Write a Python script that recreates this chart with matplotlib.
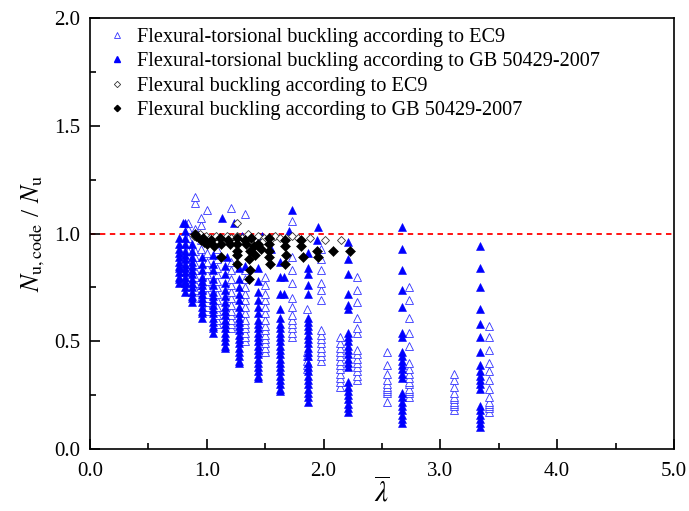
import matplotlib
matplotlib.use("Agg")
import matplotlib.pyplot as plt
from matplotlib.ticker import MultipleLocator, FormatStrFormatter
from matplotlib.lines import Line2D

plt.rcParams['font.family'] = ['Liberation Serif', 'DejaVu Serif']
plt.rcParams['mathtext.fontset'] = 'stix'

# Flexural-torsional buckling, GB 50429-2007 (filled triangles): columns of lambda with ratios
ft_gb_lam = [0.76, 0.81, 0.87, 0.96, 1.05, 1.16, 1.28, 1.44, 1.63, 1.87, 2.21, 2.67, 3.34]
ft_gb_val = [
    [0.77, 0.79, 0.80, 0.82, 0.84, 0.85, 0.87, 0.89, 0.91, 0.93, 0.95, 0.98],
    [0.73, 0.75, 0.77, 0.78, 0.80, 0.82, 0.84, 0.86, 0.88, 0.90, 0.92, 0.95, 0.98, 1.01, 1.05],
    [0.68, 0.70, 0.71, 0.73, 0.75, 0.77, 0.79, 0.81, 0.83, 0.85, 0.87, 0.89, 0.92, 0.95],
    [0.61, 0.63, 0.64, 0.66, 0.68, 0.70, 0.72, 0.74, 0.76, 0.78, 0.80, 0.83, 0.86, 0.89],
    [0.54, 0.56, 0.57, 0.59, 0.61, 0.63, 0.65, 0.67, 0.69, 0.71, 0.73, 0.76, 0.79, 0.83, 0.86, 0.90],
    [0.47, 0.48, 0.50, 0.52, 0.54, 0.56, 0.58, 0.60, 0.62, 0.64, 0.66, 0.68, 0.71, 0.74, 0.77, 0.81, 0.85],
    [0.40, 0.41, 0.43, 0.45, 0.47, 0.49, 0.51, 0.53, 0.55, 0.57, 0.59, 0.61, 0.63, 0.66, 0.69, 0.72, 0.75, 0.79, 0.84],
    [0.33, 0.34, 0.36, 0.38, 0.40, 0.42, 0.44, 0.46, 0.48, 0.50, 0.52, 0.54, 0.56, 0.58, 0.60, 0.63, 0.66, 0.69, 0.73, 0.78, 0.84],
    [0.27, 0.28, 0.30, 0.32, 0.34, 0.36, 0.38, 0.40, 0.42, 0.44, 0.46, 0.48, 0.50, 0.52, 0.54, 0.56, 0.58, 0.61, 0.65, 0.72, 0.80, 0.87],
    [0.22, 0.24, 0.26, 0.28, 0.30, 0.32, 0.34, 0.36, 0.38, 0.40, 0.43, 0.45, 0.47, 0.49, 0.51, 0.53, 0.55, 0.57, 0.59, 0.61, 0.72, 0.76, 0.81, 0.84, 0.91],
    [0.17, 0.19, 0.21, 0.23, 0.25, 0.27, 0.29, 0.31, 0.38, 0.40, 0.42, 0.44, 0.46, 0.48, 0.50, 0.52, 0.54, 0.65, 0.67, 0.72, 0.81, 0.88, 0.96],
    [0.12, 0.14, 0.16, 0.18, 0.20, 0.22, 0.24, 0.26, 0.33, 0.35, 0.37, 0.39, 0.41, 0.43, 0.45, 0.52, 0.54, 0.66, 0.74, 0.83, 0.93, 1.03],
    [0.10, 0.12, 0.14, 0.16, 0.18, 0.20, 0.28, 0.30, 0.32, 0.34, 0.36, 0.39, 0.45, 0.52, 0.58, 0.65, 0.75, 0.84, 0.94],
]
ft_gb_extra_x = [0.80, 1.13, 1.23, 1.73, 1.70, 1.95, 1.94, 1.66, 1.66, 1.30, 1.43, 1.47, 1.33, 1.17, 1.55]
ft_gb_extra_y = [1.05, 1.07, 1.05, 1.11, 1.01, 1.03, 0.97, 0.80, 0.72, 0.99, 0.95, 0.99, 0.85, 0.89, 0.93]

# Flexural-torsional buckling, EC9 (open triangles)
ft_ec9_lam = [0.84, 0.90, 0.95, 1.00, 1.09, 1.21, 1.33, 1.50, 1.73, 1.86, 1.98, 2.14, 2.29, 2.54, 2.73, 3.12, 3.42]
ft_ec9_val = [
    [0.80, 0.83, 0.86, 0.89, 0.92, 0.95, 0.98, 1.02, 1.05],
    [0.74, 0.77, 0.80, 0.83, 0.86, 0.89, 0.92, 1.02, 1.14, 1.17],
    [0.70, 0.73, 0.76, 0.93, 0.97, 1.04, 1.07],
    [0.64, 0.66, 0.68, 0.70, 0.72, 0.75, 0.78, 0.81, 0.84, 0.87, 0.91, 1.11],
    [0.58, 0.60, 0.62, 0.64, 0.66, 0.69, 0.72, 0.75, 0.78, 0.81, 0.84, 0.88, 0.93],
    [0.56, 0.58, 0.60, 0.62, 0.64, 0.67, 0.70, 0.73, 0.76, 0.79, 0.83, 0.87, 1.12],
    [0.50, 0.52, 0.54, 0.56, 0.58, 0.60, 0.63, 0.66, 0.69, 0.72, 0.75, 0.79, 0.83, 1.09],
    [0.45, 0.47, 0.49, 0.51, 0.53, 0.55, 0.57, 0.60, 0.63, 0.66, 0.69, 0.72, 0.76, 0.80],
    [0.52, 0.54, 0.56, 0.58, 0.60, 0.62, 0.66, 0.70, 0.77, 0.83, 0.89, 1.06],
    [0.37, 0.39, 0.41, 0.43, 0.45, 0.65],
    [0.41, 0.43, 0.45, 0.47, 0.49, 0.51, 0.53, 0.55, 0.69, 0.74, 0.77, 0.83, 0.88, 0.93],
    [0.29, 0.31, 0.33, 0.35, 0.37, 0.39, 0.41, 0.43, 0.45, 0.47, 0.49, 0.52],
    [0.32, 0.34, 0.36, 0.38, 0.40, 0.42, 0.44, 0.46, 0.54, 0.56, 0.61, 0.68, 0.74, 0.80],
    [0.22, 0.26, 0.27, 0.28, 0.29, 0.30, 0.32, 0.35, 0.39, 0.45],
    [0.24, 0.26, 0.27, 0.28, 0.30, 0.31, 0.33, 0.35, 0.37, 0.40, 0.48, 0.54, 0.61, 0.69, 0.75],
    [0.18, 0.20, 0.21, 0.22, 0.23, 0.24, 0.26, 0.29, 0.32, 0.35],
    [0.17, 0.19, 0.20, 0.21, 0.22, 0.24, 0.28, 0.32, 0.36, 0.40, 0.46, 0.52, 0.57],
]

# Flexural buckling, EC9 (open diamonds)
fb_ec9_x = [0.89, 0.94, 0.99, 1.03, 1.08, 1.12, 1.17, 1.21, 1.26, 1.30, 1.35, 1.39, 1.44,
            1.49, 1.54, 1.58, 1.63, 1.68, 1.73, 1.78, 1.88, 2.01, 2.15, 1.26, 1.37, 1.47]
fb_ec9_y = [0.99, 1.00, 0.99, 0.98, 0.99, 0.98, 0.99, 0.98, 0.99, 0.98, 1.00, 0.98, 0.99,
            0.98, 0.97, 0.99, 0.98, 0.98, 0.99, 0.98, 0.98, 0.97, 0.97, 1.05, 0.96, 0.96]

# Flexural buckling, GB 50429-2007 (filled diamonds)
fb_gb_x = [0.90, 0.91, 0.97, 1.04, 1.06, 1.11, 1.12, 1.12, 1.18, 1.20, 1.26, 1.26, 1.26, 1.26, 1.26,
           1.33, 1.34, 1.37, 1.36, 1.38, 1.40, 1.41, 1.44, 1.46, 1.36, 1.53, 1.53, 1.53, 1.53, 1.54,
           1.67, 1.67, 1.68, 1.67, 1.81, 1.81, 1.82, 1.94, 1.95, 2.08, 2.23, 1.37, 0.98, 1.00, 0.95]
fb_gb_y = [1.00, 0.99, 0.98, 0.97, 0.94, 0.98, 0.95, 0.89, 0.97, 0.95, 0.98, 0.95, 0.92, 0.90, 0.86,
           0.97, 0.95, 0.92, 0.88, 0.98, 0.94, 0.90, 0.95, 0.93, 0.79, 0.98, 0.95, 0.92, 0.89, 0.86,
           0.97, 0.94, 0.90, 0.86, 0.97, 0.94, 0.89, 0.92, 0.89, 0.92, 0.92, 0.83, 0.96, 0.95, 0.97]

labels = ["Flexural-torsional buckling according to EC9",
          "Flexural-torsional buckling according to GB 50429-2007",
          "Flexural buckling according to EC9",
          "Flexural buckling according to GB 50429-2007"]


def expand(lams, vals):
    xs, ys = [], []
    for lam, col in zip(lams, vals):
        for v in col:
            xs.append(lam)
            ys.append(v)
    return xs, ys


fig = plt.figure(figsize=(6.89, 5.11), dpi=100)
ax = fig.add_axes([0.1306, 0.1213, 0.8476, 0.8434])

ax.axhline(1.0, color='#ff0000', lw=1.3, ls=(0, (3, 2.5)), zorder=1)

ex, ey = expand(ft_ec9_lam, ft_ec9_val)
ax.plot(ex, ey, ls='none', marker='^', ms=6.0, mfc='white', mec='#3333ff', mew=0.6, zorder=2)

gx, gy = expand(ft_gb_lam, ft_gb_val)
gx = gx + ft_gb_extra_x
gy = gy + ft_gb_extra_y
ax.plot(gx, gy, ls='none', marker='^', ms=6.0, mfc='#0000ff', mec='#0000ff', mew=0.4, zorder=3)

ax.plot(fb_ec9_x, fb_ec9_y, ls='none', marker='D', ms=4.3, mfc='white', mec='#333333', mew=0.6, zorder=4)
ax.plot(fb_gb_x, fb_gb_y, ls='none', marker='D', ms=4.8, mfc='black', mec='black', mew=0.4, zorder=5)

ax.set_xlim(0, 5)
ax.set_ylim(0, 2.0)
ax.xaxis.set_major_locator(MultipleLocator(1.0))
ax.xaxis.set_minor_locator(MultipleLocator(0.5))
ax.yaxis.set_major_locator(MultipleLocator(0.5))
ax.yaxis.set_minor_locator(MultipleLocator(0.25))
ax.xaxis.set_major_formatter(FormatStrFormatter('%.1f'))
ax.yaxis.set_major_formatter(FormatStrFormatter('%.1f'))
ax.tick_params(which='both', direction='in', top=False, right=False, width=1.2, labelsize=15)
ax.tick_params(which='major', length=7)
ax.tick_params(which='minor', length=4)
ax.tick_params(axis='x', which='major', pad=9)
ax.tick_params(axis='y', which='major', pad=7)
for s in ax.spines.values():
    s.set_linewidth(1.2)

ax.set_xlabel(r'$\overline{\lambda}$', fontsize=21, labelpad=-2)
ax.set_ylabel(r'$N_{\mathrm{u,code}}$ / $N_{\mathrm{u}}$', fontsize=18.5, labelpad=5)

handles = [
    Line2D([], [], ls='none', marker='^', ms=4, mfc='white', mec='#3333ff', mew=0.6),
    Line2D([], [], ls='none', marker='^', ms=4, mfc='#0000ff', mec='#0000ff'),
    Line2D([], [], ls='none', marker='D', ms=3.2, mfc='white', mec='#333333', mew=0.6),
    Line2D([], [], ls='none', marker='D', ms=3.2, mfc='black', mec='black'),
]
ax.legend(handles, labels, loc='upper left', bbox_to_anchor=(0.005, 1.01), frameon=False,
          fontsize=14.6, handlelength=1.0, handletextpad=0.45, labelspacing=0.25, borderpad=0.2)

fig.savefig('out.png', dpi=100)
